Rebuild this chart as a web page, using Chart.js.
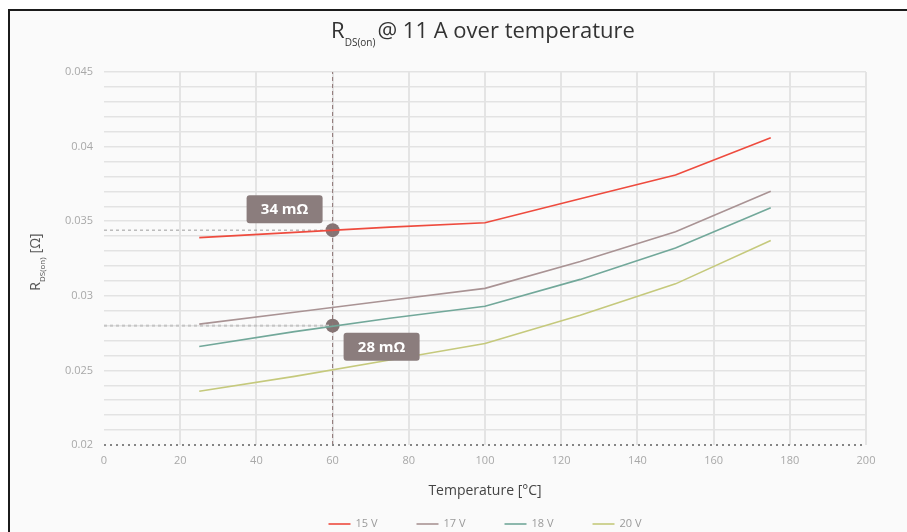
<!DOCTYPE html>
<html>
<head>
<meta charset="utf-8">
<script src="https://cdn.jsdelivr.net/npm/chart.js@4.4.1/dist/chart.umd.min.js"></script>
<style>
  html, body { margin: 0; padding: 0; background: #fff; overflow: hidden; }
  #frame { position: absolute; left: 8px; top: 9px; width: 920px; height: 540px;
           border-left: 2px solid #1b1b1b; border-top: 2px solid #1b1b1b; background: #fafafa; }
  #wrap { position: absolute; left: 0; top: 0; width: 907px; height: 532px; }
</style>
</head>
<body>
<div id="frame"></div>
<div id="wrap"><canvas id="rdsChart" width="907" height="532"></canvas></div>
<script>
// values
const temps = [25, 50, 75, 100, 125, 150, 175];
const r15V = [0.0339, 0.03425, 0.0346, 0.0349, 0.0365, 0.0381, 0.0406];
const r17V = [0.0281, 0.0289, 0.0297, 0.0305, 0.0323, 0.0343, 0.0370];
const r18V = [0.0266, 0.0276, 0.0285, 0.0293, 0.0311, 0.0332, 0.0359];
const r20V = [0.0236, 0.0246, 0.0257, 0.0268, 0.0287, 0.0308, 0.0337];
const seriesLabels = ["15 V", "17 V", "18 V", "20 V"];
const seriesColors = ["#ee4b3e", "#a99394", "#72a89a", "#c5c97c"];
const yTickLabels = ["0.02", "0.025", "0.03", "0.035", "0.04", "0.045"];
const markerTemp = 60;
const markerValues = [0.0344, 0.028];
const markerLabels = ["34 mΩ", "28 mΩ"];

const FONT = "'Open Sans', 'DejaVu Sans', sans-serif";
Chart.defaults.font.family = FONT;

const toPoints = (vals) => vals.map((v, i) => ({ x: temps[i], y: v }));
const seriesData = [r15V, r17V, r18V, r20V];

const datasets = seriesData.map((vals, i) => ({
  label: seriesLabels[i],
  data: toPoints(vals),
  borderColor: seriesColors[i],
  backgroundColor: seriesColors[i],
  borderWidth: 1.6,
  pointRadius: 0,
  tension: 0,
}));

// dotted base line of the x axis
datasets.push({
  label: "axis",
  data: [{ x: 0, y: 0.02 }, { x: 200, y: 0.02 }],
  borderColor: "#858585",
  borderWidth: 2,
  borderDash: [2, 4],
  pointRadius: 0,
  clip: false,
});

// marker helpers
datasets.push({
  label: "marker-v",
  data: [{ x: markerTemp, y: 0.02 }, { x: markerTemp, y: 0.045 }],
  borderColor: "#8e7474",
  borderWidth: 1,
  borderDash: [4, 3],
  pointRadius: 0,
});
datasets.push({
  label: "marker-h1",
  data: [{ x: 0, y: markerValues[0] }, { x: markerTemp, y: markerValues[0] }],
  borderColor: "#9c9c9c",
  borderWidth: 1,
  borderDash: [3, 3],
  pointRadius: 0,
});
datasets.push({
  label: "marker-h2",
  data: [{ x: 0, y: markerValues[1] }, { x: markerTemp, y: markerValues[1] }],
  borderColor: "#c4c4c4",
  borderWidth: 2,
  borderDash: [3, 3],
  pointRadius: 0,
});
datasets.push({
  label: "marker-points",
  data: markerValues.map((v) => ({ x: markerTemp, y: v })),
  showLine: false,
  pointRadius: 7,
  pointBackgroundColor: "#847474",
  pointBorderWidth: 0,
});

function drawParts(ctx, parts, x, y) {
  parts.forEach((p) => {
    ctx.font = p.font;
    ctx.fillText(p.text, x, y + (p.dy || 0));
    x += ctx.measureText(p.text).width + (p.gap || 0);
  });
}
function partsWidth(ctx, parts) {
  return parts.reduce((w, p) => {
    ctx.font = p.font;
    return w + ctx.measureText(p.text).width + (p.gap || 0);
  }, 0);
}

const extrasPlugin = {
  id: "extras",
  afterDraw(chart) {
    const ctx = chart.ctx;
    const xs = chart.scales.x;
    const ys = chart.scales.y;
    ctx.save();

    // title with subscript
    const titleParts = [
      { text: "R", font: "22px " + FONT },
      { text: "DS(on)", font: "10px " + FONT, dy: 8, gap: 2 },
      { text: "@ 11 A over temperature", font: "22px " + FONT },
    ];
    ctx.fillStyle = "#333";
    ctx.textBaseline = "alphabetic";
    ctx.textAlign = "left";
    drawParts(ctx, titleParts, 483 - partsWidth(ctx, titleParts) / 2, 38);

    // y axis title (rotated)
    const yParts = [
      { text: "R", font: "14px " + FONT },
      { text: "DS(on)", font: "8px " + FONT, dy: 5, gap: 4 },
      { text: "[Ω]", font: "14px " + FONT },
    ];
    ctx.save();
    ctx.translate(40, 262);
    ctx.rotate(-Math.PI / 2);
    ctx.fillStyle = "#555";
    drawParts(ctx, yParts, -partsWidth(ctx, yParts) / 2, 0);
    ctx.restore();

    // value labels next to the marker points
    const offsets = [[-48, -21], [49, 21]];
    markerValues.forEach((v, i) => {
      const px = xs.getPixelForValue(markerTemp) + offsets[i][0];
      const py = ys.getPixelForValue(v) + offsets[i][1];
      const w = 76, h = 28;
      ctx.fillStyle = "#8b7d7d";
      ctx.beginPath();
      ctx.roundRect(px - w / 2, py - h / 2, w, h, 3);
      ctx.fill();
      ctx.fillStyle = "#fff";
      ctx.font = "bold 15px " + FONT;
      ctx.textAlign = "center";
      ctx.textBaseline = "middle";
      ctx.fillText(markerLabels[i], px, py + 1);
    });

    // legend
    ctx.font = "11px " + FONT;
    ctx.textAlign = "left";
    ctx.textBaseline = "middle";
    const pitch = 88;
    const lastW = 22 + 5 + ctx.measureText(seriesLabels[3]).width;
    let lx = 485 - (pitch * 3 + lastW) / 2;
    const ly = 524;
    seriesLabels.forEach((lab, i) => {
      ctx.strokeStyle = seriesColors[i];
      ctx.lineWidth = 1.6;
      ctx.beginPath();
      ctx.moveTo(lx, ly);
      ctx.lineTo(lx + 22, ly);
      ctx.stroke();
      ctx.fillStyle = "#9a9a9a";
      ctx.fillText(lab, lx + 27, ly);
      lx += pitch;
    });
    ctx.restore();
  },
};

new Chart(document.getElementById("rdsChart"), {
  type: "line",
  data: { datasets: datasets },
  options: {
    responsive: false,
    animation: false,
    layout: { padding: { left: 10, right: 41, top: 72, bottom: 27 } },
    plugins: {
      legend: { display: false },
      tooltip: { enabled: false },
      title: { display: false },
    },
    scales: {
      x: {
        type: "linear",
        min: 0,
        max: 200,
        ticks: { stepSize: 20, color: "#a8a8a8", font: { size: 11 }, padding: 9 },
        grid: {
          drawTicks: false,
          lineWidth: 2,
          color: (c) => (c.tick && c.tick.value === 0 ? "rgba(0,0,0,0)" : "#e4e4e4"),
        },
        border: { display: false },
        title: {
          display: true,
          text: "Temperature [°C]",
          color: "#444",
          font: { size: 14 },
          padding: { top: 0, bottom: 6 },
        },
        afterFit: (s) => { s.height = 60; },
      },
      y: {
        min: 0.02,
        max: 0.045,
        ticks: {
          stepSize: 0.001,
          autoSkip: false,
          color: "#a8a8a8",
          font: { size: 11 },
          padding: 11,
          callback: (v) => {
            const lab = yTickLabels.find((l) => Math.abs(Number(l) - v) < 1e-7);
            return lab === undefined ? "" : lab;
          },
        },
        grid: {
          drawTicks: false,
          lineWidth: 1.5,
          color: (c) => (c.tick && Math.abs(c.tick.value - 0.02) < 1e-7 ? "rgba(0,0,0,0)" : "#e3e3e3"),
        },
        border: { display: false },
        afterFit: (s) => { s.width = 94; },
      },
    },
  },
  plugins: [extrasPlugin],
});
</script>
</body>
</html>
